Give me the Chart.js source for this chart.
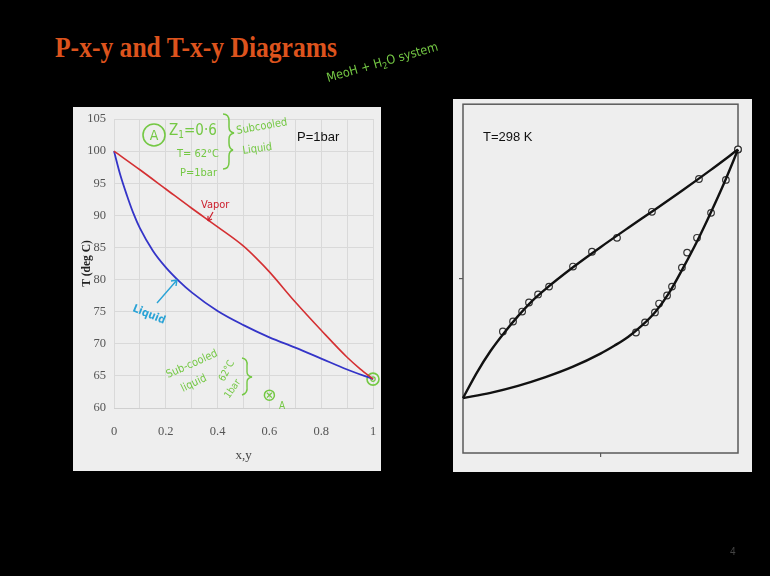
<!DOCTYPE html>
<html>
<head>
<meta charset="utf-8">
<script src="https://cdn.jsdelivr.net/npm/chart.js@4/dist/chart.umd.min.js"></script>
<style>
  html, body { margin: 0; padding: 0; }
  body { background: #000; width: 770px; height: 576px; overflow: hidden; position: relative; }
  #title { position: absolute; left: 55px; top: 32px; font: bold 30px 'Liberation Serif', serif; line-height: 30px;
           color: #dc531d; white-space: nowrap; transform-origin: 0 0; }
  .panel { position: absolute; background: #eeeeee; }
  #txyPanel { left: 73px; top: 107px; width: 308px; height: 364px; }
  #pxyPanel { left: 453px; top: 99px; width: 299px; height: 373px; }
  canvas { display: block; }
  #ink { position: absolute; left: 0; top: 0; pointer-events: none; }
  #pageNo { position: absolute; left: 730px; top: 546px; color: #444; font: 10px 'Liberation Sans', sans-serif; }
</style>
</head>
<body>
<div id="title">P-x-y and T-x-y Diagrams</div>
<div class="panel" id="txyPanel"><canvas id="txy" width="308" height="364"></canvas></div>
<div class="panel" id="pxyPanel"><canvas id="pxy" width="299" height="373"></canvas></div>

<svg id="ink" width="770" height="576" xmlns="http://www.w3.org/2000/svg">
  <g font-family="'DejaVu Sans Condensed','Liberation Sans',sans-serif" fill="#74c844">
    <text x="328" y="82" font-size="12.5" transform="rotate(-16 328 82)">MeoH + H<tspan font-size="9" dy="3">2</tspan><tspan dy="-3">O system</tspan></text>

    <circle cx="154" cy="135" r="11" fill="none" stroke="#74c844" stroke-width="1.6"/>
    <text x="154" y="140" font-size="14" text-anchor="middle">A</text>
    <text x="169" y="135" font-size="15">Z<tspan font-size="10" dy="3">1</tspan><tspan dy="-3">=0·6</tspan></text>
    <text x="177" y="157" font-size="11">T= 62°C</text>
    <text x="180" y="176" font-size="11">P=1bar</text>
    <path d="M223,114 q6,0 6,7 v6 q0,5 5,6 q-5,1 -5,6 v4 q0,6 4,7 q-4,1 -4,6 v6 q0,7 -6,7" fill="none" stroke="#74c844" stroke-width="1.5"/>
    <text x="237" y="134" font-size="11" transform="rotate(-10 237 134)">Subcooled</text>
    <text x="243" y="154" font-size="11" transform="rotate(-8 243 154)">Liquid</text>

    <text x="168" y="378" font-size="11" transform="rotate(-24 168 378)">Sub-cooled</text>
    <text x="183" y="392" font-size="11" transform="rotate(-26 183 392)">liquid</text>
    <text x="224" y="382" font-size="10" transform="rotate(-62 224 382)">62°C</text>
    <text x="229" y="399" font-size="10" transform="rotate(-55 229 399)">1bar</text>
    <path d="M242,358 q6,1 5,8 v6 q0,4 5,5 q-5,1 -5,5 v5 q1,6 -5,8" fill="none" stroke="#74c844" stroke-width="1.4"/>
    <text x="279" y="409" font-size="10">A</text>
  </g>
  <g font-family="'DejaVu Sans Condensed','Liberation Sans',sans-serif">
    <text x="201" y="208" font-size="11" fill="#cc1f2d">Vapor</text>
    <path d="M213,212 L208,221 M208,221 l0,-5 M208,221 l4,-2" stroke="#cc1f2d" stroke-width="1.2" fill="none"/>
    <text x="132" y="311" font-size="11" font-weight="bold" fill="#2aa3d6" transform="rotate(22 132 311)">Liquid</text>
    <path d="M157,303 L177,280 M177,280 l-6,1 M177,280 l-1,6" stroke="#2aa3d6" stroke-width="1.4" fill="none"/>
  </g>
  <g font-family="'Liberation Sans',sans-serif" fill="#111">
    <text x="297" y="141" font-size="13">P=1bar</text>
    <text x="483" y="141" font-size="13">T=298 K</text>
  </g>
</svg>
<div id="pageNo">4</div>

<script>
// ---- Methanol(1) + water(2), T-x-y at P = 1 bar ----
const compTicks = [0, 0.1, 0.2, 0.3, 0.4, 0.5, 0.6, 0.7, 0.8, 0.9, 1];
const compLabels = ['0', '', '0.2', '', '0.4', '', '0.6', '', '0.8', '', '1'];
const tempTicks = [60, 65, 70, 75, 80, 85, 90, 95, 100, 105];

// bubble-point (liquid) curve
const liquidX = [0, 0.025, 0.05, 0.075, 0.1, 0.15, 0.2, 0.25, 0.3, 0.4, 0.5, 0.6, 0.7, 0.8, 0.9, 1];
const liquidT = [100, 96.2, 93.1, 90.3, 88.0, 84.5, 81.9, 79.8, 78.0, 75.1, 72.9, 71.0, 69.4, 67.7, 66.0, 64.5];
// dew-point (vapor) curve
const vaporY = [0, 0.1, 0.2, 0.3, 0.4, 0.5, 0.55, 0.6, 0.7, 0.8, 0.9, 0.95, 1];
const vaporT = [100, 97.1, 94.1, 91.1, 88.2, 85.2, 83.3, 81.2, 76.5, 72.1, 67.9, 66.1, 64.5];
// state A (z1 = 0.6, T = 62 C) and the pure-methanol boiling point
const stateA = [0.6, 62];
const pureMeOH = [1, 64.5];

// ---- Methanol(1) + water(2), P-x-y at T = 298 K (P in kPa) ----
const bubbleX = [0, 0.05, 0.1, 0.15, 0.2, 0.25, 0.3, 0.4, 0.5, 0.6, 0.7, 0.8, 0.9, 1];
const bubbleP = [3.15, 4.6, 5.85, 6.9, 7.85, 8.7, 9.4, 10.65, 11.8, 12.9, 13.98, 15.08, 16.22, 17.4];
const dewY = [0, 0.1, 0.2, 0.3, 0.4, 0.5, 0.55, 0.6, 0.65, 0.7, 0.75, 0.8, 0.85, 0.9, 0.95, 1];
const dewP = [3.15, 3.45, 3.85, 4.35, 4.95, 5.7, 6.15, 6.65, 7.3, 8.1, 9.2, 10.6, 12.1, 13.75, 15.5, 17.4];
// measured points
const bubbleExpX = [0.145, 0.182, 0.215, 0.24, 0.273, 0.313, 0.4, 0.469, 0.56, 0.687, 0.858, 1];
const bubbleExpP = [6.97, 7.54, 8.11, 8.63, 9.09, 9.54, 10.69, 11.54, 12.34, 13.83, 15.71, 17.41];
const dewExpY = [0.629, 0.662, 0.698, 0.713, 0.742, 0.76, 0.796, 0.815, 0.851, 0.902, 0.956, 1];
const dewExpP = [6.91, 7.49, 8.06, 8.57, 9.03, 9.54, 10.63, 11.49, 12.34, 13.77, 15.66, 17.4];

const pairs = (xs, ys) => xs.map((x, i) => ({ x: x, y: ys[i] }));

// squeeze the slide title to its width
(function () {
  const t = document.getElementById('title');
  const w = t.getBoundingClientRect().width;
  t.style.transform = 'scaleX(' + (282 / w) + ')';
})();

const serif = "'Liberation Serif', 'Times New Roman', serif";
const green = '#74c844';

// keep the plot area fixed: no extra room for overhanging tick labels
const noOverhang = s => { s.paddingLeft = 0; s.paddingRight = 0; s.paddingTop = 0; s.paddingBottom = 0; };

new Chart(document.getElementById('txy'), {
  type: 'scatter',
  data: {
    datasets: [
      { data: pairs(vaporY, vaporT), showLine: true, borderColor: '#d42f32', borderWidth: 1.6,
        pointRadius: 0, cubicInterpolationMode: 'monotone', clip: false },
      { data: pairs(liquidX, liquidT), showLine: true, borderColor: '#3434c8', borderWidth: 1.8,
        pointRadius: 0, cubicInterpolationMode: 'monotone', clip: false },
      { data: [{ x: pureMeOH[0], y: pureMeOH[1] }], pointRadius: 6, pointBorderWidth: 1.6,
        pointBorderColor: green, pointBackgroundColor: 'rgba(0,0,0,0)', clip: false },
      { data: [{ x: pureMeOH[0], y: pureMeOH[1] }], pointRadius: 2.2, pointBorderWidth: 1.2,
        pointBorderColor: green, pointBackgroundColor: 'rgba(0,0,0,0)', clip: false },
      { data: [{ x: stateA[0], y: stateA[1] }], pointRadius: 5, pointBorderWidth: 1.5,
        pointBorderColor: green, pointBackgroundColor: 'rgba(0,0,0,0)', clip: false },
      { data: [{ x: stateA[0], y: stateA[1] }], pointStyle: 'crossRot', pointRadius: 3.5, pointBorderWidth: 1.3,
        pointBorderColor: green, clip: false }
    ]
  },
  options: {
    animation: false, responsive: false, devicePixelRatio: 1,
    layout: { padding: { left: 0, top: 12, right: 8, bottom: 0 } },
    plugins: { legend: { display: false }, tooltip: { enabled: false } },
    scales: {
      x: {
        type: 'linear', min: 0, max: 1,
        afterBuildTicks: s => { s.ticks = compTicks.map(v => ({ value: v })); },
        afterFit: s => { s.height = 63; noOverhang(s); },
        ticks: { callback: (v, i) => compLabels[i], color: '#555', padding: 16, maxRotation: 0, autoSkip: false,
                 font: { family: serif, size: 12.5 } },
        grid: { color: '#d9d9d9', drawTicks: false },
        border: { color: '#cfcfcf' },
        title: { display: true, text: 'x,y', color: '#444', font: { family: serif, size: 13 }, padding: { top: 0, bottom: 8 } }
      },
      y: {
        type: 'linear', min: 60, max: 105,
        afterBuildTicks: s => { s.ticks = tempTicks.map(v => ({ value: v })); },
        afterFit: s => { s.width = 41; noOverhang(s); },
        ticks: { color: '#555', padding: 8, font: { family: serif, size: 12.5 } },
        grid: { color: '#d9d9d9', drawTicks: false },
        border: { display: false },
        title: { display: true, text: 'T (deg C)', color: '#222', font: { family: serif, size: 11.5, weight: 'bold' },
                 padding: { top: 7, bottom: 0 } }
      }
    }
  }
});

// box round the P-x-y plot area
const frame = {
  id: 'frame',
  beforeDatasetsDraw(chart) {
    const a = chart.chartArea, c = chart.ctx;
    c.save();
    c.strokeStyle = '#5a5a5a';
    c.lineWidth = 1.5;
    c.strokeRect(a.left, a.top, a.right - a.left, a.bottom - a.top);
    c.restore();
  }
};

const expStyle = { showLine: false, pointRadius: 3.3, pointBorderWidth: 1.2, pointBorderColor: '#333',
                   pointBackgroundColor: '#f4f4f4', clip: false };

new Chart(document.getElementById('pxy'), {
  type: 'scatter',
  data: {
    datasets: [
      { data: pairs(bubbleX, bubbleP), showLine: true, borderColor: '#111', borderWidth: 2.4,
        pointRadius: 0, cubicInterpolationMode: 'monotone', clip: false },
      { data: pairs(dewY, dewP), showLine: true, borderColor: '#111', borderWidth: 2.4,
        pointRadius: 0, cubicInterpolationMode: 'monotone', clip: false },
      Object.assign({ data: pairs(bubbleExpX, bubbleExpP) }, expStyle),
      Object.assign({ data: pairs(dewExpY, dewExpP) }, expStyle)
    ]
  },
  options: {
    animation: false, responsive: false, devicePixelRatio: 1,
    layout: { padding: { left: 0, top: 4, right: 14, bottom: 0 } },
    plugins: { legend: { display: false }, tooltip: { enabled: false } },
    scales: {
      x: {
        type: 'linear', min: 0, max: 1,
        afterBuildTicks: s => { s.ticks = [{ value: 0.5 }]; },
        afterFit: s => { s.height = 19; noOverhang(s); },
        ticks: { display: false },
        grid: { drawOnChartArea: false, drawTicks: true, tickLength: 4, color: '#5a5a5a', lineWidth: 1.2 },
        border: { display: false }
      },
      y: {
        type: 'linear', min: 0, max: 20,
        afterBuildTicks: s => { s.ticks = [{ value: 10 }]; },
        afterFit: s => { s.width = 10; noOverhang(s); },
        ticks: { display: false },
        grid: { drawOnChartArea: false, drawTicks: true, tickLength: 4, color: '#5a5a5a', lineWidth: 1.2 },
        border: { display: false }
      }
    }
  },
  plugins: [frame]
});
</script>
</body>
</html>
